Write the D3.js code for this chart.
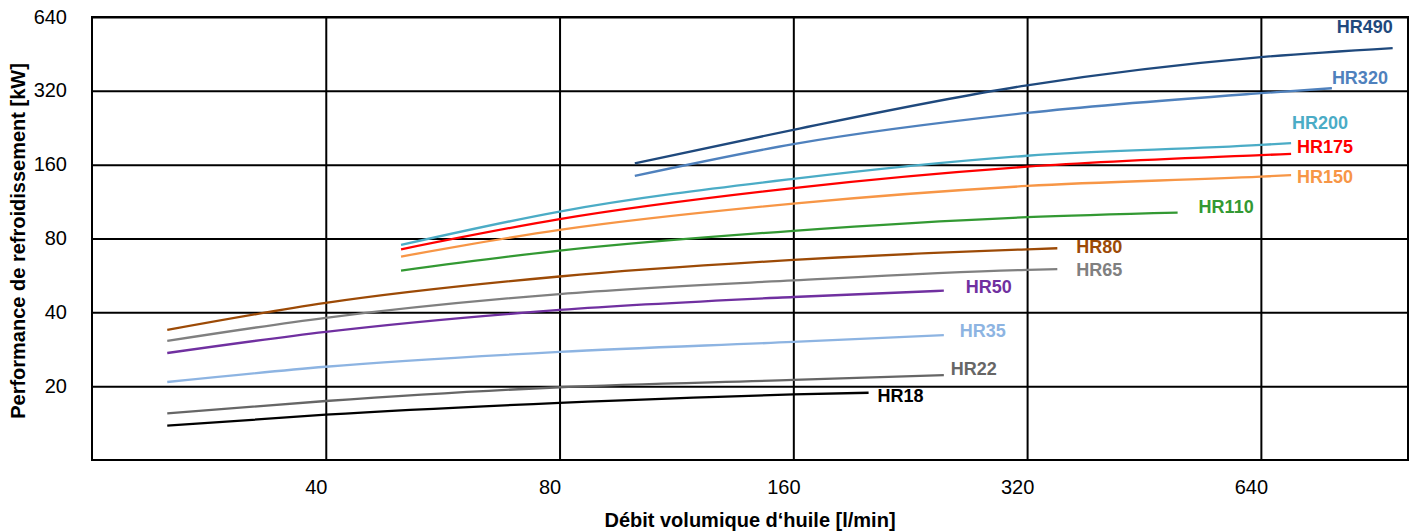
<!DOCTYPE html>
<html>
<head lang="fr">
	<meta charset="UTF-8">
	<title>Performance de refroidissement</title>
	<script src="https://cdn.jsdelivr.net/npm/d3@7"></script>
	<style>
		body { margin: 0; background: #fff; }
		svg { font-family: Arial, "Liberation Sans", sans-serif; }
	</style>
</head>
<body>

<script>

	// values, flow in l/min, power in kW
	var names = ["HR18", "HR22", "HR35", "HR50", "HR65", "HR80", "HR110", "HR150", "HR175", "HR200", "HR320", "HR490"];
	var colors = ["#000000", "#666666", "#8db4e2", "#7030a0", "#808080", "#9c4a06", "#339933", "#f79646", "#ff0000", "#4bacc6", "#4f81bd", "#1f497d"];

	var flows = [
		[25, 40, 80, 160, 200],
		[25, 40, 80, 160, 250],
		[25, 40, 80, 160, 250],
		[25, 40, 80, 160, 250],
		[25, 40, 80, 160, 320, 350],
		[25, 40, 80, 160, 320, 350],
		[50, 80, 160, 320, 500],
		[50, 80, 160, 320, 640, 700],
		[50, 80, 160, 320, 640, 700],
		[50, 80, 160, 320, 640, 700],
		[100, 160, 320, 640, 790],
		[100, 160, 320, 640, 946]
	];
	var powers = [
		[13.8, 15.3, 17.1, 18.5, 18.8],
		[15.5, 17.4, 19.8, 21.2, 22.2],
		[20.8, 24.0, 27.6, 30.3, 32.3],
		[27.3, 33.3, 40.9, 46.2, 49.0],
		[30.6, 38.0, 47.5, 54.0, 59.6, 60.0],
		[33.9, 43.7, 56.0, 65.4, 72.3, 73.0],
		[59.2, 71.4, 86.0, 97.7, 102],
		[67.5, 86.7, 111, 131, 143, 145],
		[72.3, 96.0, 128.5, 157, 175, 177],
		[75.3, 103, 140, 174, 192.5, 196],
		[144, 194, 260, 313, 328],
		[162, 222, 337, 439, 478]
	];

	var xTicks = [40, 80, 160, 320, 640];
	var yTicks = [20, 40, 80, 160, 320, 640];

	// label baseline relative to the end of each curve, in pixels
	var labelOffset = [[9, 9], [7, 0], [16, 2], [22, 2], [19, 7], [19, 5], [21, 0], [6, 8], [6, -1], [1, -14], [0, -4], [-56, -15]];

	var W = 1416, H = 531;
	var pLeft = 92, pRight = 1408, pTop = 17, pBottom = 460;

	var svg = d3.select("body").append("svg").attr("width", W).attr("height", H);

	var x = d3.scaleLog().domain([20, 990]).range([pLeft, pRight]);
	var y = d3.scaleLog().domain([10, 640]).range([pBottom, pTop]);

	var gx = svg.append("g")
			.attr("transform", "translate(0," + pBottom + ")")
			.call(d3.axisBottom(x).tickValues(xTicks).tickFormat(d3.format("d"))
					.tickSizeInner(-(pBottom - pTop)).tickSizeOuter(0).tickPadding(20));
	gx.select(".domain").remove();
	gx.selectAll("line").attr("stroke", "#000").attr("stroke-width", 2);
	gx.selectAll("text").attr("fill", "#000").style("font-size", "20px").attr("dx", -10);

	var gy = svg.append("g")
			.attr("transform", "translate(" + pLeft + ",0)")
			.call(d3.axisLeft(y).tickValues(yTicks).tickFormat(d3.format("d"))
					.tickSizeInner(-(pRight - pLeft)).tickSizeOuter(0).tickPadding(25));
	gy.select(".domain").remove();
	gy.selectAll("line").attr("stroke", "#000").attr("stroke-width", 2);
	gy.selectAll("text").attr("fill", "#000").style("font-size", "20px").attr("dy", "0.3em");

	svg.append("rect")
			.attr("x", pLeft).attr("y", pTop)
			.attr("width", pRight - pLeft).attr("height", pBottom - pTop)
			.attr("fill", "none").attr("stroke", "#000").attr("stroke-width", 2);

	var line = d3.line()
			.x(function (d) { return x(d[0]); })
			.y(function (d) { return y(d[1]); })
			.curve(d3.curveMonotoneX);

	names.forEach(function (name, i) {
		var pts = d3.zip(flows[i], powers[i]);
		svg.append("path")
				.datum(pts)
				.attr("d", line)
				.attr("fill", "none")
				.attr("stroke", colors[i])
				.attr("stroke-width", 2.3);

		var last = pts[pts.length - 1];
		svg.append("text")
				.attr("x", x(last[0]) + labelOffset[i][0])
				.attr("y", y(last[1]) + labelOffset[i][1])
				.attr("fill", colors[i])
				.style("font-size", "18px")
				.style("font-weight", "bold")
				.text(name);
	});

	svg.append("text")
			.attr("x", 750).attr("y", 527)
			.attr("text-anchor", "middle")
			.style("font-size", "20px").style("font-weight", "bold")
			.text("Débit volumique d‘huile [l/min]");

	svg.append("text")
			.attr("transform", "translate(25,241) rotate(-90)")
			.attr("text-anchor", "middle")
			.style("font-size", "20px").style("font-weight", "bold")
			.text("Performance de refroidissement [kW]");

</script>

</body>
</html>
